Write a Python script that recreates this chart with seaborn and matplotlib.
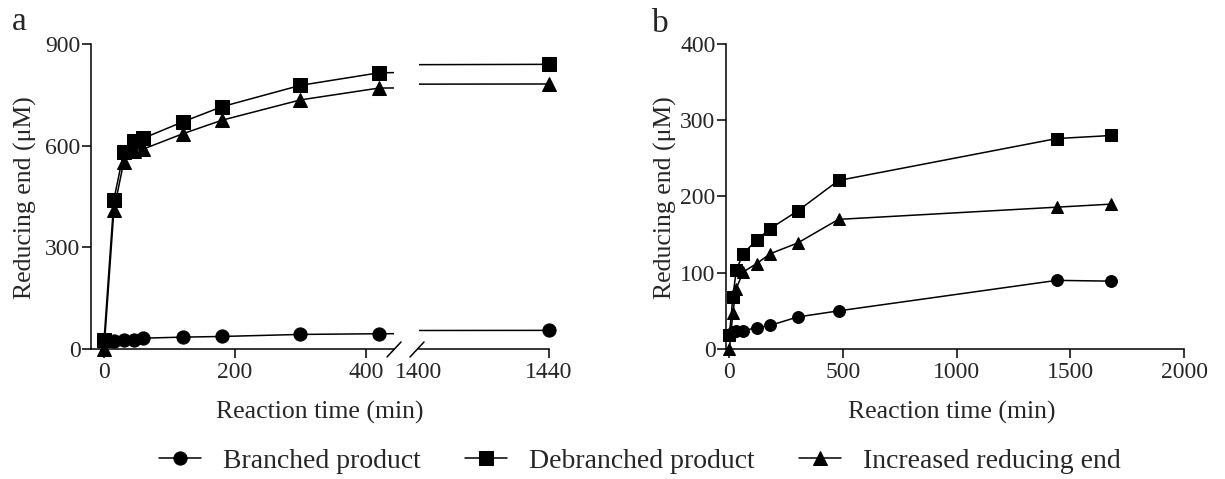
import numpy as np
import pandas as pd
import seaborn as sns
import matplotlib.pyplot as plt
from matplotlib.lines import Line2D
from matplotlib.patches import Rectangle

sns.set_style("ticks")
plt.rcParams['font.family'] = ['Liberation Serif', 'DejaVu Serif']

series = ['Branched product', 'Debranched product', 'Increased reducing end']
markers = {'Branched product': 'o', 'Debranched product': 's', 'Increased reducing end': '^'}

# panel a
time_a = [0, 15, 30, 45, 60, 120, 180, 300, 420, 1440]
branched_a = [28, 25, 28, 28, 32, 35, 37, 43, 45, 55]
debranched_a = [28, 441, 581, 615, 622, 670, 715, 778, 815, 840]
increased_a = [0, 410, 552, 585, 590, 635, 675, 735, 770, 782]

# panel b
time_b = [0, 15, 30, 60, 120, 180, 300, 480, 1440, 1680]
branched_b = [18, 22, 23, 24, 28, 31, 42, 50, 90, 89]
debranched_b = [18, 68, 103, 125, 143, 158, 181, 221, 276, 280]
increased_b = [0, 47, 79, 101, 112, 125, 139, 170, 186, 190]


def long_df(t, vals):
    rows = []
    for name, v in zip(series, vals):
        for x, y in zip(t, v):
            rows.append([x, y, name])
    return pd.DataFrame(rows, columns=['time', 'value', 'series'])


df_a = long_df(time_a, [branched_a, debranched_a, increased_a])
df_b = long_df(time_b, [branched_b, debranched_b, increased_b])

fig = plt.figure(figsize=(12.25, 4.79), dpi=100)
W, H = 1225, 479
bot = (H - 349) / H
hgt = 305 / H
ax1 = fig.add_axes([91 / W, bot, 303 / W, hgt])
ax2 = fig.add_axes([419 / W, bot, 130 / W, hgt])
ax3 = fig.add_axes([726 / W, bot, 458 / W, hgt])

tfs = 17
lfs = 18.5
for ax, df, ms in [(ax1, df_a, 9.5), (ax2, df_a, 9.5), (ax3, df_b, 8.5)]:
    sns.lineplot(data=df, x='time', y='value', style='series', markers=markers,
                 dashes=False, color='black', ax=ax, markersize=ms,
                 markeredgecolor='black', linewidth=1.1, legend=(ax is ax1))
    ax.tick_params(direction='out', length=6.5, width=1.1, labelsize=tfs, color='black')
    ax.tick_params(axis='y', pad=1)
    ax.tick_params(axis='x', pad=3)
    for s in ax.spines.values():
        s.set_linewidth(1.1)
        s.set_color('black')
    ax.set_xlabel('')
    ax.set_ylabel('')

# left part of the broken axis
ax1.set_xlim(-20, 443)
ax1.set_ylim(0, 900)
ax1.set_yticks([0, 300, 600, 900])
ax1.set_xticks([0, 200, 400])
sns.despine(ax=ax1)
for l in ax1.lines:
    l.set_clip_path(Rectangle((-0.2, -0.2), 1.2, 1.4, transform=ax1.transAxes))

# right part of the broken axis
ax2.set_xlim(1400, 1440)
ax2.set_ylim(0, 900)
ax2.set_xticks([1400, 1440])
ax2.set_yticks([])
ax2.xaxis.get_major_ticks()[0].tick1line.set_visible(False)
sns.despine(ax=ax2, left=True)
ax2.patch.set_alpha(0)
for l in ax2.lines:
    l.set_clip_path(Rectangle((0, -0.2), 1.3, 1.4, transform=ax2.transAxes))

ax3.set_xlim(-15, 2000)
ax3.set_ylim(0, 400)
ax3.set_xticks([0, 500, 1000, 1500, 2000])
ax3.set_yticks([0, 100, 200, 300, 400])
sns.despine(ax=ax3)
for l in ax3.lines:
    l.set_clip_on(False)

# break marks
for x0 in [387, 410]:
    fig.add_artist(Line2D([x0 / W, (x0 + 14) / W], [(H - 357) / H, (H - 342) / H],
                          color='black', lw=1.1, transform=fig.transFigure))

handles, labels = ax1.get_legend_handles_labels()
ax1.get_legend().remove()

fig.text(320 / W, 1 - 412 / H, 'Reaction time (min)', ha='center', va='center', fontsize=lfs)
fig.text(952 / W, 1 - 412 / H, 'Reaction time (min)', ha='center', va='center', fontsize=lfs)
fig.text(25 / W, 1 - 198 / H, 'Reducing end (μM)', ha='center', va='center', rotation=90, fontsize=lfs)
fig.text(665 / W, 1 - 198 / H, 'Reducing end (μM)', ha='center', va='center', rotation=90, fontsize=lfs)
fig.text(12 / W, 1 - 22 / H, 'a', ha='left', va='center', fontsize=24)
fig.text(652 / W, 1 - 24 / H, 'b', ha='left', va='center', fontsize=24)

fig.legend(handles, labels, loc='center', bbox_to_anchor=(640 / W, 1 - 461 / H), ncol=3,
           frameon=False, fontsize=20, handlelength=1.5, columnspacing=1.6, handletextpad=0.8,
           borderaxespad=0, borderpad=0)

fig.savefig('out.png', dpi=100)
